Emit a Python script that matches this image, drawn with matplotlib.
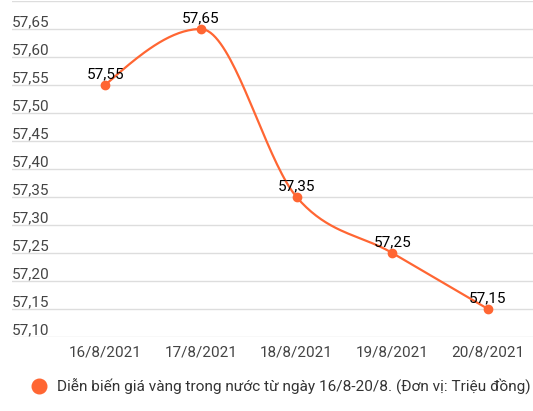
import numpy as np
import matplotlib
matplotlib.use("Agg")
import matplotlib.pyplot as plt
from matplotlib.lines import Line2D

categories = ["16/8/2021", "17/8/2021", "18/8/2021", "19/8/2021", "20/8/2021"]
values = [57.55, 57.65, 57.35, 57.25, 57.15]
y_ticks = [57.10, 57.15, 57.20, 57.25, 57.30, 57.35, 57.40, 57.45, 57.50, 57.55, 57.60, 57.65, 57.70]
series_name = "Diễn biến giá vàng trong nước từ ngày 16/8-20/8. (Đơn vị: Triệu đồng)"

COLOR = "#FF6633"
plt.rcParams['font.family'] = ['Roboto', 'DejaVu Sans']
FS = 11


def monotone_path(x, y, n=40):
    """d3 curveMonotoneX style rendering of the line between the data points."""
    x = np.asarray(x, float)
    y = np.asarray(y, float)
    h = np.diff(x)
    s = np.diff(y) / h
    t = np.zeros_like(y)
    for i in range(1, len(y) - 1):
        s0, s1 = s[i - 1], s[i]
        p = (s0 * h[i] + s1 * h[i - 1]) / (h[i - 1] + h[i])
        t[i] = (np.sign(s0) + np.sign(s1)) * min(abs(s0), abs(s1), 0.5 * abs(p))
    t[0] = (3 * s[0] - t[1]) / 2
    t[-1] = (3 * s[-1] - t[-2]) / 2
    xs, ys = [], []
    u = np.linspace(0, 1, n)
    for i in range(len(y) - 1):
        dx = h[i] / 3
        P0 = (x[i], y[i]); P1 = (x[i] + dx, y[i] + dx * t[i])
        P2 = (x[i + 1] - dx, y[i + 1] - dx * t[i + 1]); P3 = (x[i + 1], y[i + 1])
        bx = ((1 - u) ** 3) * P0[0] + 3 * ((1 - u) ** 2) * u * P1[0] + 3 * (1 - u) * u ** 2 * P2[0] + u ** 3 * P3[0]
        by = ((1 - u) ** 3) * P0[1] + 3 * ((1 - u) ** 2) * u * P1[1] + 3 * (1 - u) * u ** 2 * P2[1] + u ** 3 * P3[1]
        xs.extend(bx); ys.extend(by)
    return np.array(xs), np.array(ys)


fig = plt.figure(figsize=(5.33, 4.11), dpi=100)
ax = fig.add_axes([12 / 533, 1 - 337 / 411, 1 - 12 / 533, (337 - 1) / 411])

xpos = np.arange(len(categories))
ax.set_xlim(-0.973, 4.47)
ax.set_ylim(57.10, 57.70)

for v in y_ticks:
    ax.axhline(v, color="#dddddd", lw=1, zorder=0)
    if v < 57.69:
        ax.annotate(f"{v:.2f}".replace(".", ","), xy=(0, v), xycoords=('axes fraction', 'data'),
                    xytext=(0, 2.2), textcoords='offset points', ha='left', va='baseline',
                    fontsize=FS, color="#444444")

cx, cy = monotone_path(xpos, values)
ax.plot(cx, cy, color=COLOR, lw=1.6, zorder=2, solid_capstyle='round')
ax.plot(xpos, values, 'o', color=COLOR, markersize=6, zorder=3)

for xi, v in zip(xpos, values):
    ax.annotate(f"{v:.2f}".replace(".", ","), xy=(xi, v), xytext=(0, 4.5), textcoords='offset points',
                ha='center', va='baseline', fontsize=FS, color="#000000", zorder=4)

ax.set_xticks(xpos)
ax.set_xticklabels(categories, fontsize=FS, color="#444444")
ax.tick_params(axis='x', length=0, pad=6)
ax.set_yticks([])
for sp in ax.spines.values():
    sp.set_visible(False)

handle = Line2D([], [], marker='o', color=COLOR, linestyle='None', markersize=10.5)
fig.legend([handle], [series_name], loc='lower center', bbox_to_anchor=(0.526, 0.005),
           frameon=False, fontsize=11.1, labelcolor="#333333", handletextpad=0.6,
           handlelength=1.2)

fig.savefig("out.png", dpi=100)
